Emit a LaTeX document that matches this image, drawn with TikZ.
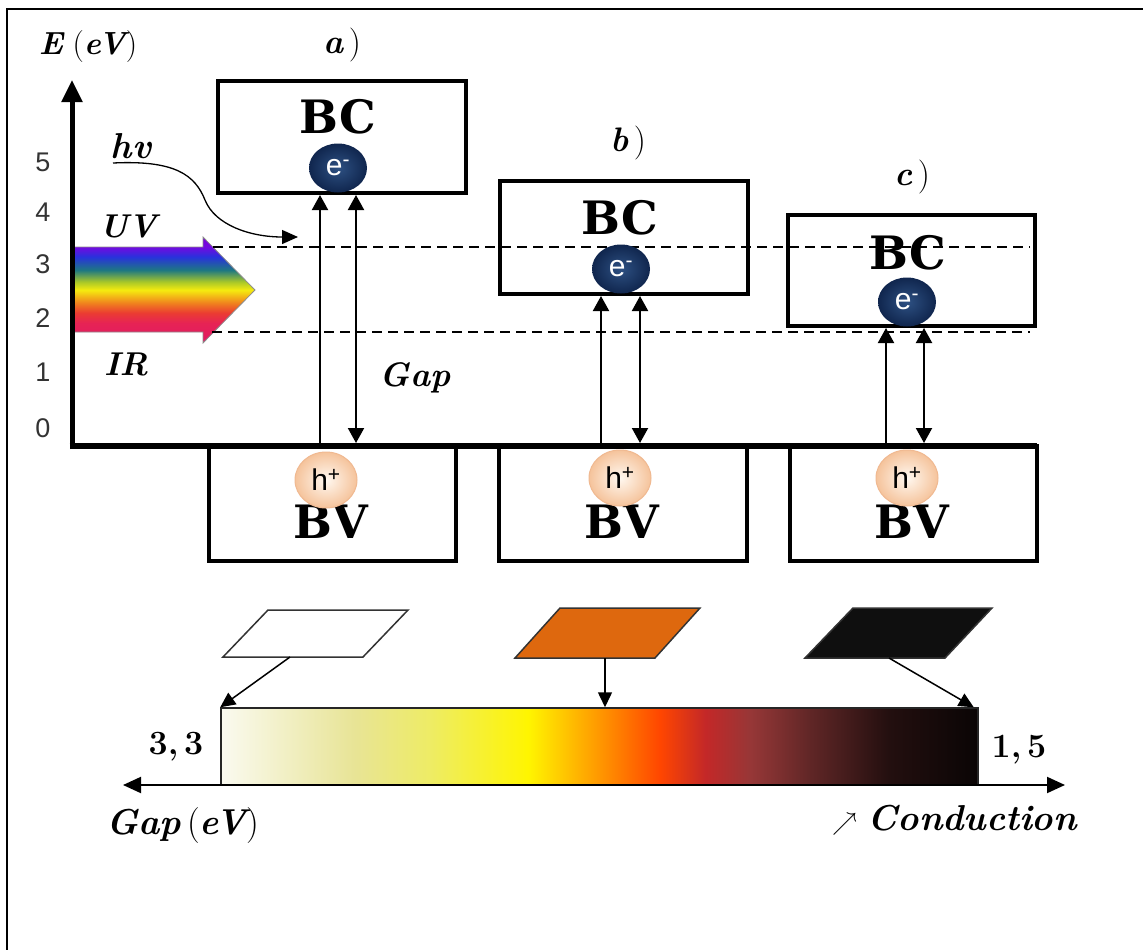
\documentclass[tikz,border=0pt]{standalone}
\usepackage{fontspec}
\newfontfamily\sansf{Liberation Sans}
\newfontfamily\slabf{DejaVu Serif}
\usetikzlibrary{arrows.meta,shapes.geometric,calc}
\newcommand\bfi[1]{{\bfseries\itshape #1}}
\newcommand\fs[1]{\fontsize{#1}{#1}\selectfont}
% gap bar colours
\definecolor{g0}{RGB}{250,250,240}
\definecolor{g1}{RGB}{232,228,150}
\definecolor{g2}{RGB}{238,236,100}
\definecolor{g3}{RGB}{255,245,0}
\definecolor{g4}{RGB}{255,165,0}
\definecolor{g5}{RGB}{255,70,0}
\definecolor{g6}{RGB}{195,40,40}
\definecolor{g7}{RGB}{150,55,55}
\definecolor{g8}{RGB}{95,38,38}
\definecolor{g9}{RGB}{35,15,15}
\definecolor{g10}{RGB}{10,5,5}
% rainbow colours
\definecolor{r0}{RGB}{225,25,100}
\definecolor{r1}{RGB}{230,35,85}
\definecolor{r2}{RGB}{235,60,50}
\definecolor{r3}{RGB}{240,130,30}
\definecolor{r4}{RGB}{245,235,15}
\definecolor{r5}{RGB}{170,200,40}
\definecolor{r6}{RGB}{30,120,130}
\definecolor{r7}{RGB}{40,50,220}
\definecolor{r8}{RGB}{115,10,225}
\definecolor{r9}{RGB}{120,0,215}
% others
\definecolor{elin}{RGB}{45,80,130}
\definecolor{elout}{RGB}{16,38,78}
\definecolor{holein}{RGB}{255,248,240}
\definecolor{holeout}{RGB}{245,195,155}
\definecolor{holeb}{RGB}{240,185,145}
\definecolor{orangep}{RGB}{222,104,14}
\definecolor{blackp}{RGB}{15,15,15}
\pgfdeclarehorizontalshading{gapbar}{100bp}{color(0bp)=(g0); color(25bp)=(g0); color(33.8bp)=(g1); color(38.9bp)=(g2); color(45.3bp)=(g3); color(49.3bp)=(g4); color(54bp)=(g5); color(57bp)=(g6); color(60bp)=(g7); color(64bp)=(g8); color(69.1bp)=(g9); color(75bp)=(g10); color(100bp)=(g10)}
\pgfdeclareverticalshading{rainbow}{100bp}{color(0bp)=(r0); color(25bp)=(r0); color(34.4bp)=(r1); color(39.2bp)=(r2); color(43.9bp)=(r3); color(50bp)=(r4); color(53.8bp)=(r5); color(59.4bp)=(r6); color(65.6bp)=(r7); color(70.3bp)=(r8); color(75bp)=(r9); color(100bp)=(r9)}
\begin{document}
\begin{tikzpicture}[x=1pt,y=-1pt,
  bcbox/.style={draw, line width=4pt, fill=white, inner sep=0pt},
  bvbox/.style={draw, line width=3.5pt, fill=white, inner sep=0pt, minimum height=115pt},
  band/.style={font=\slabf\bfseries\fs{46}, inner sep=0pt},
  tick/.style={font=\sansf\fs{27}, text=black!80, inner sep=0pt},
  lbl/.style={inner sep=0pt},
  elec/.style={ellipse, minimum width=58pt, minimum height=49pt, inner sep=0pt, inner color=elin, outer color=elout, text=white, font=\sansf\fs{30}},
  hole/.style={ellipse, minimum width=62pt, minimum height=56pt, inner sep=0pt, draw=holeb, line width=1pt, inner color=holein, outer color=holeout, font=\sansf\fs{30}},
  ar/.style={line width=2pt, -{Triangle[width=16pt,length=15pt]}},
  dar/.style={line width=2pt, {Triangle[width=16pt,length=15pt]}-{Triangle[width=16pt,length=15pt]}},
  dline/.style={line width=2.5pt, dash pattern=on 10pt off 6pt},
  para/.style={line width=1.5pt, draw=black!80},
  sar/.style={line width=1.5pt, -{Triangle[width=14pt,length=15pt]}},
]
\useasboundingbox (0,0) rectangle (1143,950);
% frame
\draw[line width=2.5pt] (7,950) -- (7,9) -- (1143,9);

% rainbow arrow
\shade[shading=rainbow, draw=black!45, line width=0.8pt] (72,247) -- (203,247) -- (203,237) -- (255,290) -- (203,343) -- (203,332) -- (72,332) -- cycle;

% coordinates for transition arrows
\coordinate (a1) at (320,443); \coordinate (a2) at (356,443);
\coordinate (b1) at (601,443); \coordinate (b2) at (640,443);
\coordinate (c1) at (886,443); \coordinate (c2) at (924,443);

% BV boxes
\node[bvbox, minimum width=247pt] (bva) at (332.5,503.5) {};
\node[bvbox, minimum width=248pt] (bvb) at (623,503.5) {};
\node[bvbox, minimum width=247pt] (bvc) at (913.5,503.5) {};
% BC boxes
\node[bcbox, minimum width=248pt, minimum height=112pt] (bca) at (342,137) {};
\node[bcbox, minimum width=248pt, minimum height=113pt] (bcb) at (624,237.5) {};
\node[bcbox, minimum width=247pt, minimum height=111pt] (bcc) at (911.5,270.5) {};

% transitions
\draw[ar] (a1) -- (a1 |- bca.south);
\draw[dar] (a2) -- (a2 |- bca.south);
\draw[ar] (b1) -- (b1 |- bcb.south);
\draw[dar] (b2) -- (b2 |- bcb.south);
\draw[ar] (c1) -- (c1 |- bcc.south);
\draw[dar] (c2) -- (c2 |- bcc.south);

% axes
\coordinate (origin) at (69.5,446); \coordinate (xend) at (1037,446);
\coordinate (ybase) at (72,449); \coordinate (ytop) at (72,80);
\draw[line width=6pt] (origin) -- (xend);
\draw[line width=5pt, -{Triangle[width=20pt,length=22pt]}] (ybase) -- (ytop);

% dashed levels
\coordinate (uvs) at (213,247); \coordinate (uve) at (1030,247);
\coordinate (irs) at (212,332); \coordinate (ire) at (1030,332);
\draw[dline] (uvs) -- (uve);
\draw[dline] (irs) -- (ire);

% tick labels
\node[tick] (t5) at (43,162) {5};
\node[tick] (t4) at (43,212) {4};
\node[tick] (t3) at (43,264) {3};
\node[tick] (t2) at (43,318) {2};
\node[tick] (t1) at (43,372) {1};
\node[tick] (t0) at (43,428) {0};

% labels
\node[lbl, font=\fs{32}] (ylab) at (88,47) {\bfi{E}\ (\bfi{eV})};
\node[lbl, font=\fs{36}] (hv) at (131,146) {\bfi{hv}};
\node[lbl, font=\fs{33}] (uv) at (128,226) {\bfi{UV}};
\node[lbl, font=\fs{33}] (ir) at (126,364) {\bfi{IR}};
\node[lbl, font=\fs{34}] (gapl) at (415,378) {\bfi{Gap}};
\node[lbl, font=\fs{34}] (la) at (342,45) {\bfi{a}\,)};
\node[lbl, font=\fs{34}] (lb) at (628,143) {\bfi{b}\,)};
\node[lbl, font=\fs{34}] (lc) at (912,177) {\bfi{c}\,)};

% photon
\coordinate (hvs) at (113,163); \coordinate (hve) at (298,237);
\draw[line width=1.3pt, -{Triangle[width=14pt,length=16pt]}] (hvs) .. controls (175,160) and (195,175) .. (205,200) .. controls (215,225) and (250,237) .. (hve);

% band texts
\node[band] (tbca) at (338,117) {BC};
\node[band] (tbcb) at (620,218) {BC};
\node[band] (tbcc) at (908,253) {BC};
\node[band] (tbva) at (331,522) {BV};
\node[band] (tbvb) at (622,522) {BV};
\node[band] (tbvc) at (912,522) {BV};

% electrons
\node[elec] (ea) at (338,168) {e\textsuperscript{-}};
\node[elec] (eb) at (621,269) {e\textsuperscript{-}};
\node[elec] (ec) at (907,302) {e\textsuperscript{-}};
% holes
\node[hole] (ha) at (326,480) {h\textsuperscript{+}};
\node[hole] (hb) at (620,478) {h\textsuperscript{+}};
\node[hole] (hc) at (907,478) {h\textsuperscript{+}};

% colour samples
\draw[para, fill=white] (268,610) -- (408,610) -- (363,657) -- (223,657) -- cycle;
\draw[para, fill=orangep] (560,608) -- (700,608) -- (655,658) -- (515,658) -- cycle;
\draw[para, fill=blackp] (853,608) -- (992,608) -- (945,658) -- (805,658) -- cycle;

% gap bar
\node[shade, shading=gapbar, draw=black!85, line width=1.5pt, inner sep=0pt, minimum width=757pt, minimum height=77pt] (bar) at (599.5,746.5) {};
\coordinate (pw) at (290,657); \coordinate (po) at (605,658); \coordinate (pk) at (889,658);
\draw[sar] (pw) -- (bar.north west);
\draw[sar] (po) -- (po |- bar.north);
\draw[sar] (pk) -- ($(bar.north east)+(-5,0)$);

% gap axis
\coordinate (gl) at (123,785); \coordinate (gr) at (1065,785);
\draw[line width=2pt, {Triangle[width=16pt,length=18pt]}-{Triangle[width=16pt,length=18pt]}] (gl) -- (gr);

\node[lbl, font=\bfseries\fs{34}] (v33) at (176,747) {3,\,3};
\node[lbl, font=\bfseries\fs{34}] (v15) at (1019,750) {1,\,5};
\node[lbl, font=\fs{36}] (gapev) at (183,826) {\bfi{Gap}\,(\bfi{eV})};
\node[lbl, font=\fs{36}, anchor=west] (cond) at (832,820) {$\nearrow$\ \bfi{Conduction}};
\end{tikzpicture}
\end{document}
